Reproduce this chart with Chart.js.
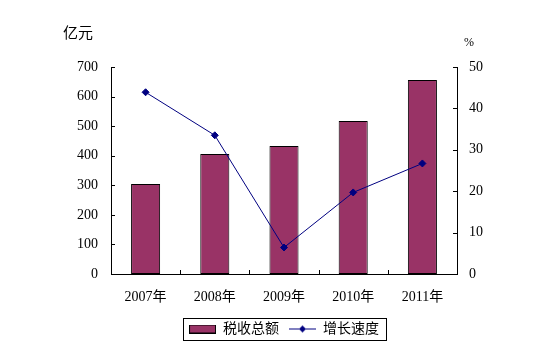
<!DOCTYPE html>
<html><head><meta charset="utf-8">
<script src="https://cdn.jsdelivr.net/npm/chart.js@4/dist/chart.umd.min.js"></script>
<style>html,body{margin:0;padding:0;background:#fff}#wrap{width:545px;height:357px}</style>
</head><body><div id="wrap"><canvas id="c" width="545" height="357"></canvas></div>
<script>
const categories = ['2007年','2008年','2009年','2010年','2011年'];
const taxTotal = [304, 406, 433, 517, 656];
const growthRate = [43.9, 33.5, 6.4, 19.7, 26.7];
const seriesNames = ['税收总额','增长速度'];
const leftUnit = '亿元';
const rightUnit = '%';
const leftTicks = {min:0, max:700, step:100};
const rightTicks = {min:0, max:50, step:10};

const FONT = '"Liberation Serif", "Noto Sans CJK SC", serif';
const BAR = '#993366', LINE = '#000080';

function barSwatch(){const c=document.createElement('canvas');c.width=27;c.height=9;const g=c.getContext('2d');g.fillStyle=BAR;g.fillRect(0.5,0.5,26,8);g.strokeStyle='#000';g.lineWidth=1;g.strokeRect(0.5,0.5,26,8);return c;}
function lineSwatch(){const c=document.createElement('canvas');c.width=27;c.height=9;const g=c.getContext('2d');g.strokeStyle=LINE;g.lineWidth=1;g.beginPath();g.moveTo(0,4.5);g.lineTo(27,4.5);g.stroke();g.fillStyle=LINE;g.beginPath();g.moveTo(13.5,1);g.lineTo(17,4.5);g.lineTo(13.5,8);g.lineTo(10,4.5);g.closePath();g.fill();return c;}
const swatches=[barSwatch(), lineSwatch()];

const extras = {
  id:'extras',
  afterDraw(chart){
    const ctx=chart.ctx, a=chart.chartArea;
    ctx.save();
    ctx.strokeStyle='#000'; ctx.lineWidth=1;
    const y=chart.scales.y, y1=chart.scales.y1, x=chart.scales.x;
    ctx.beginPath();
    for(let v=leftTicks.min; v<=leftTicks.max; v+=leftTicks.step){const p=Math.round(y.getPixelForValue(v))+0.5; ctx.moveTo(a.left,p); ctx.lineTo(a.left+4,p);}
    for(let v=rightTicks.min; v<=rightTicks.max; v+=rightTicks.step){const p=Math.round(y1.getPixelForValue(v))+0.5; ctx.moveTo(a.right-4,p); ctx.lineTo(a.right,p);}
    for(let i=1;i<categories.length;i++){const p=Math.round((x.getPixelForValue(i-1)+x.getPixelForValue(i))/2)+0.5; ctx.moveTo(p,a.bottom); ctx.lineTo(p,a.bottom-4);}
    ctx.stroke();
    // legend border
    const hb=chart.legend.legendHitBoxes;
    if(hb&&hb.length){
      const l=Math.min(...hb.map(h=>h.left))-6, r=Math.max(...hb.map(h=>h.left+h.width))+7;
      const t=Math.min(...hb.map(h=>h.top))-4, b=Math.max(...hb.map(h=>h.top+h.height))+4;
      ctx.strokeRect(Math.round(l)+0.5,Math.round(t)+0.5,Math.round(r-l),Math.round(b-t));
    }
    ctx.fillStyle='#000'; ctx.textBaseline='middle';
    ctx.font='15px "Noto Sans CJK SC"'; ctx.textAlign='left';
    ctx.fillText(leftUnit, 63, 32);
    ctx.font='12px "Liberation Serif"';
    ctx.fillText(rightUnit, 464, 43);
    ctx.restore();
  }
};

new Chart(document.getElementById('c'), {
  type:'bar',
  data:{
    labels:categories,
    datasets:[
      {type:'bar', label:seriesNames[0], data:taxTotal, yAxisID:'y', backgroundColor:BAR, borderColor:'#000', borderWidth:1, borderSkipped:false, categoryPercentage:1, barPercentage:0.42, order:1},
      {type:'line', label:seriesNames[1], data:growthRate, yAxisID:'y1', borderColor:LINE, borderWidth:1, pointStyle:'rectRot', pointRadius:3.5, pointBackgroundColor:LINE, pointBorderColor:LINE, tension:0, order:0}
    ]
  },
  options:{
    responsive:false, animation:false, devicePixelRatio:1,
    layout:{padding:{left:0,right:0,top:67,bottom:11}},
    plugins:{
      tooltip:{enabled:false},
      legend:{display:true, position:'bottom', fullSize:false,
        labels:{usePointStyle:true, pointStyleWidth:27, padding:10, color:'#000', font:{family:FONT, size:14},
          sort:(a,b)=>a.datasetIndex-b.datasetIndex,
          generateLabels:(chart)=>chart.data.datasets.map((d,i)=>({text:d.label, datasetIndex:i, pointStyle:swatches[i], fillStyle:'transparent', strokeStyle:'transparent', lineWidth:0, fontColor:'#000', hidden:false}))
        }}
    },
    scales:{
      x:{type:'category', offset:true, grid:{display:false, drawTicks:false}, border:{display:true,color:'#000',width:1},
        ticks:{color:'#000', font:{family:FONT,size:14}, padding:15, maxRotation:0},
        afterFit:(s)=>{s.height=38;}},
      y:{position:'left', min:leftTicks.min, max:leftTicks.max, grid:{display:false, drawTicks:false}, border:{display:true,color:'#000',width:1},
        ticks:{stepSize:leftTicks.step, color:'#000', font:{family:FONT,size:14}, padding:13},
        afterFit:(s)=>{s.width=111;}},
      y1:{position:'right', min:rightTicks.min, max:rightTicks.max, grid:{display:false, drawTicks:false}, border:{display:true,color:'#000',width:1},
        ticks:{stepSize:rightTicks.step, color:'#000', font:{family:FONT,size:14}, padding:12},
        afterFit:(s)=>{s.width=88;}}
    }
  },
  plugins:[extras]
});
</script></body></html>
